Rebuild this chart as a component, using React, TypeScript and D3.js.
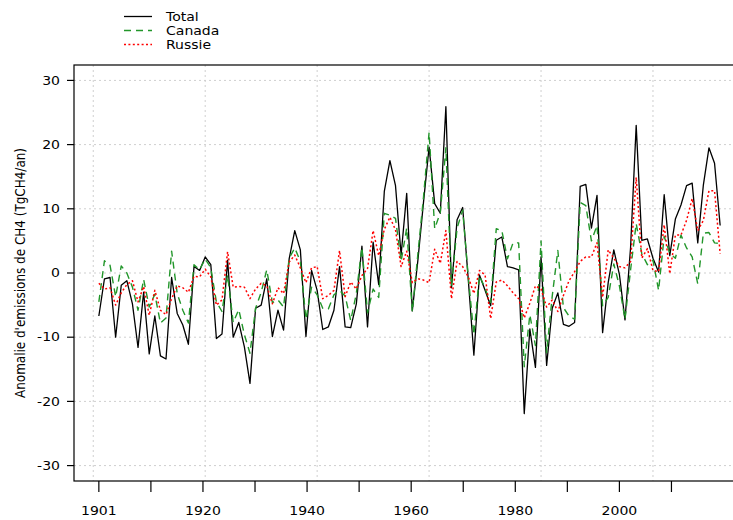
import React from "react";
import * as d3 from "d3";

const years: number[] = d3.range(1901, 2013);

const total: number[] = [
  -6.7, -0.9, -0.7, -10.0, -1.9, -1.2, -4.8, -11.6, -3.0, -12.6,
  -6.7, -12.9, -13.4, -0.7, -6.3, -8.1, -11.1, 1.0, 0.4, 2.5,
  1.3, -10.2, -9.5, 2.0, -10.0, -7.7, -11.5, -17.2, -5.5, -5.0,
  -0.9, -9.9, -5.8, -8.9, 2.2, 6.6, 3.6, -9.9, 0.4, -2.7,
  -8.8, -8.4, -5.8, 1.0, -8.4, -8.5, -4.8, 4.2, -8.4, 4.8,
  -1.8, 12.7, 17.5, 13.6, 2.8, 12.4, -5.9, 2.0, 11.0, 19.6,
  10.8, 9.3, 25.9, -2.3, 8.3, 10.2, -1.0, -12.8, -0.3, -2.7,
  -5.1, 5.1, 5.6, 1.0, 0.8, 0.5, -21.9, -8.7, -14.7, 2.5,
  -14.4, -5.5, -3.1, -8.0, -8.3, -7.7, 13.5, 13.8, 7.0, 12.1,
  -9.3, -1.5, 3.6, -0.2, -7.3, 4.0, 23.0, 5.1, 5.3, 2.3,
  0.15, 12.2, 2.7, 8.4, 10.6, 13.6, 14.0, 4.7, 13.7, 19.5,
  17.1, 7.4,
];

const canada: number[] = [
  -4.5, 1.9, 1.2, -3.7, 1.1, 0.0, -2.2, -5.8, -1.0, -5.3,
  -3.3, -7.8, -7.0, 3.4, -3.2, -5.8, -7.8, 1.3, 0.5, 2.2,
  0.8, -4.5, -6.0, -0.3, -7.7, -5.7, -9.6, -12.5, -5.5, -3.0,
  0.5, -4.6, -4.2, -5.3, 2.3, 3.9, 1.8, -7.2, -2.2, -3.4,
  -5.5, -5.6, -3.4, -2.7, -3.6, -7.4, -3.2, 4.0, -6.2, -2.5,
  -3.8, 9.3, 9.0, 8.5, 1.8, 7.0, -6.0, 3.0, 11.8, 21.9,
  6.9, 9.4, 19.5, -2.0, 7.0, 9.8, -0.6, -9.6, -0.4, -2.4,
  -4.6, 6.9, 6.6, 2.2, 4.7, 4.7, -14.6, -6.5, -11.3, 5.0,
  -12.4, -3.6, 3.5, -5.4, -6.7, -7.2, 11.0, 10.5, 5.0, 7.4,
  -5.1, -3.8, 1.4, -2.0, -7.2, 0.5, 7.7, 3.0, 1.3, 2.0,
  -2.7, 5.7, 3.1, 2.3, 5.9, 3.9, 2.5, -1.7, 6.2, 6.3,
  4.7, 4.6,
];

const russie: number[] = [
  -1.6, -2.5, -2.3, -5.0, -3.1, -1.8, -1.2, -4.5, -2.1, -6.6,
  -2.7, -5.8, -6.5, -4.0, -2.0, -2.3, -3.0, -0.5, -0.6, 0.6,
  -0.6, -5.0, -4.2, 3.3, -2.2, -2.1, -2.2, -4.0, -2.5, -1.6,
  -2.0, -4.8, -2.3, -3.2, 1.7, 2.8, 0.8, -1.5, 0.8, 1.0,
  -4.0, -3.5, -2.7, 3.5, -3.7, -1.4, -2.5, -0.4, 0.7, 6.6,
  2.7, 6.8, 8.7, 6.7, 1.0, 3.4, -1.5, -0.9, -1.1, -1.5,
  3.7, 1.5, 6.6, -4.0, 1.8, 1.0, -0.6, -3.2, 0.4, -0.3,
  -7.1, -1.4, -1.1, -2.0, -3.1, -4.0, -7.0, -4.7, -2.0, -2.5,
  -5.3, -4.2, -6.0, -3.5, -1.2, 0.2, 1.8, 2.5, 2.5, 4.7,
  -3.8, 3.6, 2.3, 1.0, 0.8, 1.8, 14.9, 2.3, 3.8, 0.4,
  0.2, 7.5, -0.1, 5.9, 5.9, 8.2, 11.6, 6.6, 8.2, 12.8,
  12.8, 3.0,
];

const yTicks: number[] = [-30, -20, -10, 0, 10, 20, 30];
const xGridYears: number[] = [1900, 1920, 1940, 1960, 1980, 2000, 2020];
const xTickYears: number[] = [1901, 1910.3, 1919.6, 1928.9, 1938.2, 1947.5, 1956.8, 1966.1, 1975.4, 1984.7, 1994.0, 2003.3];
const xTickLabels: string[] = ["1901", "", "1920", "", "1940", "", "1960", "", "1980", "", "2000", ""];

const seriesNames: string[] = ["Total", "Canada", "Russie"];
const seriesColors: string[] = ["#000000", "#22962a", "#ff0000"];
const seriesDash: string[] = ["none", "7,5", "2,2.4"];
const seriesWidth: number[] = [1.3, 1.4, 1.5];

const W = 733;
const H = 520;
const left = 74;
const right = 745;
const top = 65;
const bottom = 481;
const SX = 1.17;
const FONT = "'DejaVu Sans', sans-serif";

export default function App() {
  const x = d3.scaleLinear().domain([1896.56, 2016.44]).range([left, right]);
  const y = d3.scaleLinear().domain([-32.4, 32.4]).range([bottom, top]);
  const seriesData = [total, canada, russie];
  const line = d3
    .line<number>()
    .x((_, i) => x(years[i]))
    .y((d) => y(d));

  const legendX1 = 124;
  const legendX2 = 152;
  const legendY = [16.5, 30.5, 44.5];

  return (
    <svg width={W} height={H} style={{ position: "absolute", left: 0, top: 0, background: "#fff" }}>
      <rect x={0} y={0} width={W} height={H} fill="#fff" />
      {/* grid */}
      {yTicks.map((t) => (
        <line key={"gy" + t} x1={left} x2={right} y1={y(t)} y2={y(t)} stroke="#cfcfcf" strokeWidth={1} strokeDasharray="2,3" />
      ))}
      {xGridYears.map((t) => (
        <line key={"gx" + t} x1={x(t)} x2={x(t)} y1={top} y2={bottom} stroke="#cfcfcf" strokeWidth={1} strokeDasharray="2,3" />
      ))}
      {/* series */}
      {seriesData.map((s, i) => (
        <path
          key={seriesNames[i]}
          d={line(s) || ""}
          fill="none"
          stroke={seriesColors[i]}
          strokeWidth={seriesWidth[i]}
          strokeDasharray={seriesDash[i]}
          strokeLinejoin="round"
        />
      ))}
      {/* box */}
      <rect x={left} y={top} width={right - left} height={bottom - top} fill="none" stroke="#000" strokeWidth={1.2} />
      {/* y axis */}
      {yTicks.map((t) => (
        <g key={"yt" + t}>
          <line x1={left - 7} x2={left} y1={y(t)} y2={y(t)} stroke="#000" strokeWidth={1.2} />
          <text
            transform={`translate(${left - 14},${y(t)}) scale(${SX},1)`}
            textAnchor="end"
            dominantBaseline="central"
            fontFamily={FONT}
            fontSize={12}
          >
            {t}
          </text>
        </g>
      ))}
      {/* x axis */}
      {xTickYears.map((t, i) => (
        <g key={"xt" + i}>
          <line x1={x(t)} x2={x(t)} y1={bottom} y2={bottom + 11} stroke="#000" strokeWidth={1.2} />
          {xTickLabels[i] && (
            <text
              transform={`translate(${x(t)},${bottom + 34}) scale(${SX},1)`}
              textAnchor="middle"
              fontFamily={FONT}
              fontSize={12}
            >
              {xTickLabels[i]}
            </text>
          )}
        </g>
      ))}
      {/* y title */}
      <text
        transform={`translate(25,${(top + bottom) / 2}) scale(${SX},1) rotate(-90)`}
        textAnchor="middle"
        fontFamily={FONT}
        fontSize={12}
      >
        Anomalie d'emissions de CH4 (TgCH4/an)
      </text>
      {/* legend */}
      {seriesNames.map((n, i) => (
        <g key={"lg" + n}>
          <line
            x1={legendX1}
            x2={legendX2}
            y1={legendY[i]}
            y2={legendY[i]}
            stroke={seriesColors[i]}
            strokeWidth={seriesWidth[i]}
            strokeDasharray={seriesDash[i]}
          />
          <text
            transform={`translate(166,${legendY[i]}) scale(${SX},1)`}
            dominantBaseline="central"
            fontFamily={FONT}
            fontSize={12}
          >
            {n}
          </text>
        </g>
      ))}
    </svg>
  );
}
